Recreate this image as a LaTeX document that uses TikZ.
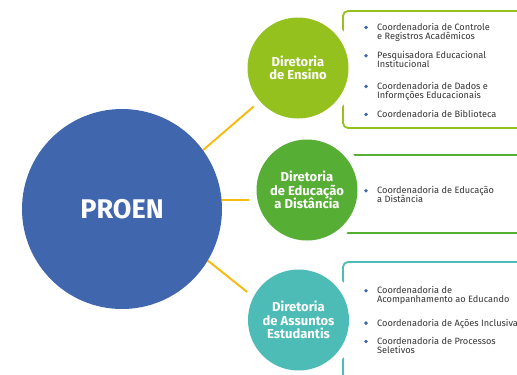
\documentclass[tikz,border=0pt]{standalone}
\usepackage{fontspec}
\setmainfont{Fira Sans}
\usetikzlibrary{calc}

\definecolor{azulproen}{HTML}{4066AE}
\definecolor{verdeensino}{HTML}{95C11F}
\definecolor{verdeead}{HTML}{57AE35}
\definecolor{azulassuntos}{HTML}{4DBCB6}
\definecolor{amarelo}{HTML}{F6BC16}
\definecolor{textocinza}{HTML}{333333}

\newcommand{\linhasjustas}{\lineskiplimit=-10pt\relax}

\pgfdeclarelayer{fundo}
\pgfsetlayers{fundo,main}

\begin{document}
\begin{tikzpicture}[x=1pt,y=-1pt,
  diretoria/.style={circle, minimum size=101pt, inner sep=0pt, outer sep=0pt, text=white, align=center,
    font=\bfseries\fontsize{13}{13.5}\selectfont\linhasjustas, preaction={draw=white, line width=16pt}},
  conector/.style={amarelo, line width=2pt},
  caixa/.style={line width=1.8pt, rounded corners=5pt},
  item/.style={anchor=north west, inner sep=0pt, align=left, text=textocinza,
    font=\fontsize{9.2}{9}\selectfont\linhasjustas},
  marcador/.style={fill=azulproen}]

\useasboundingbox (0,0) rectangle (517,375);
\clip (0,0) rectangle (517,375);

\node[circle, fill=azulproen, minimum size=200pt, inner sep=0pt, outer sep=0pt, text=white,
  font=\bfseries\fontsize{27}{30}\selectfont] (proen) at (122,209) {PROEN};
\node[diretoria, fill=verdeensino] (ensino) at (298,68) {Diretoria\\de Ensino};
\node[diretoria, fill=verdeead] (ead) at (307,190) {Diretoria\\de Educação\\a Distância};
\node[diretoria, fill=azulassuntos] (assuntos) at (298.5,320) {Diretoria\\de Assuntos\\Estudantis};

\begin{pgfonlayer}{fundo}
\draw[caixa, verdeensino] (343,11) rectangle (540,128);
\draw[caixa, verdeead] (343,155) rectangle (540,233);
\draw[caixa, azulassuntos] (343,262) rectangle (540,400);
\draw[conector] (proen.36.5) -- (ensino.221.6);
\draw[conector] (proen.5.6) -- (proen.5.6 -| ead.west);
\draw[conector] (proen.-31) -- (assuntos.153);
\end{pgfonlayer}

% itens das caixas
\node[item] (c1) at (377,23.2) {Coordenadoria de Controle\\e Registros Acadêmicos};
\node[item] (c2) at (377,51.5) {Pesquisadora Educacional\\Institucional};
\node[item] (c3) at (377,82.2) {Coordenadoria de Dados e\\Informções Educacionais};
\node[item] (c4) at (377,110.2) {Coordenadoria de Biblioteca};
\node[item] (c5) at (377,186.5) {Coordenadoria de Educação\\a Distância};
\node[item] (c6) at (377,286.5) {Coordenadoria de\\Acompanhamento ao Educando};
\node[item] (c7) at (377,318.9) {Coordenadoria de Ações Inclusivas};
\node[item] (c8) at (377,337.2) {Coordenadoria de Processos\\Seletivos};

\foreach \c in {c1,c2,c3,c4,c5,c6,c7,c8}
  \fill[marcador] ($(\c.north west)+(-11,4.2)$) circle (1.9pt);

\end{tikzpicture}
\end{document}
